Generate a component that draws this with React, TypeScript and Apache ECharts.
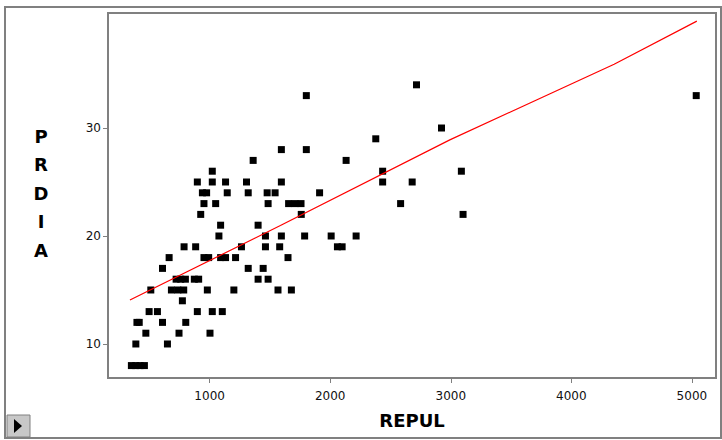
import React, { useEffect, useRef } from "react";
import * as echarts from "echarts";

// REPUL (x) and PRDIA (y) values
const repul = [
  351, 387, 423, 459,
  388, 650,
  471, 746, 1003,
  397, 416, 609, 802,
  498, 567, 898, 1022, 1105,
  774,
  512, 683, 736, 785, 981, 1201, 1567, 1678,
  722, 760, 799, 873, 909, 1402, 1485,
  609, 1320, 1444,
  664, 953, 992, 1091, 1132, 1215, 1650,
  788, 884, 1264, 1463, 1581, 2060, 2099,
  1077, 1463, 1595, 1788, 2008, 2215,
  1091, 1402,
  926, 1760, 3102,
  953, 1050, 1485, 1655, 1708, 1758, 2584,
  940, 975, 1146, 1320, 1477, 1543, 1912,
  898, 1022, 1132, 1306, 1595, 2435, 2680,
  1022, 2435, 3088,
  1361, 2132,
  1595, 1802,
  2378,
  2923,
  1802, 5036,
  2716,
];
const prdia = [
  8, 8, 8, 8,
  10, 10,
  11, 11, 11,
  12, 12, 12, 12,
  13, 13, 13, 13, 13,
  14,
  15, 15, 15, 15, 15, 15, 15, 15,
  16, 16, 16, 16, 16, 16, 16,
  17, 17, 17,
  18, 18, 18, 18, 18, 18, 18,
  19, 19, 19, 19, 19, 19, 19,
  20, 20, 20, 20, 20, 20,
  21, 21,
  22, 22, 22,
  23, 23, 23, 23, 23, 23, 23,
  24, 24, 24, 24, 24, 24, 24,
  25, 25, 25, 25, 25, 25, 25,
  26, 26, 26,
  27, 27,
  28, 28,
  29,
  30,
  33, 33,
  34,
];

// fitted line
const fitX = [339, 1587, 2992, 4355, 5041];
const fitY = [14.07, 20.97, 28.9, 35.9, 39.9];

const xTicks = [1000, 2000, 3000, 4000, 5000];
const yTicks = [10, 20, 30];

const xName = "REPUL";
const yName = "PRDIA";

export default function App() {
  const ref = useRef<HTMLDivElement>(null);
  useEffect(() => {
    if (!ref.current) return;
    const chart = echarts.init(ref.current, null, { renderer: "svg" });
    const points = repul.map((x, i) => [x, prdia[i]]);
    const line = fitX.map((x, i) => [x, fitY[i]]);
    const labelFont = "DejaVu Sans";
    chart.setOption({
      animation: false,
      backgroundColor: "#ffffff",
      grid: {
        left: 108,
        top: 13,
        right: 6,
        bottom: 62,
        show: true,
        borderColor: "#808080",
        borderWidth: 2,
        backgroundColor: "#ffffff",
      },
      xAxis: {
        type: "value",
        min: 157,
        max: 5200,
        name: xName,
        nameLocation: "middle",
        nameGap: 33,
        nameTextStyle: {
          fontFamily: labelFont,
          fontWeight: "bold",
          fontSize: 18,
          color: "#000",
        },
        splitLine: { show: false },
        axisLine: { show: true, lineStyle: { color: "#808080", width: 2 } },
        axisTick: {
          show: true,
          length: 5,
          customValues: xTicks,
          lineStyle: { color: "#808080", width: 1 },
        },
        axisLabel: {
          customValues: xTicks,
          formatter: (v: number) => String(v),
          margin: 12,
          fontFamily: labelFont,
          fontSize: 12,
          color: "#111",
        },
      },
      yAxis: {
        type: "value",
        min: 6.85,
        max: 40.65,
        splitLine: { show: false },
        axisLine: { show: true, lineStyle: { color: "#808080", width: 2 } },
        axisTick: {
          show: true,
          length: 5,
          customValues: yTicks,
          lineStyle: { color: "#808080", width: 1 },
        },
        axisLabel: {
          customValues: yTicks,
          formatter: (v: number) => String(v),
          margin: 7,
          fontFamily: labelFont,
          fontSize: 12,
          color: "#111",
        },
      },
      graphic: [
        {
          type: "rect",
          shape: { x: 5, y: 7, width: 716, height: 431 },
          style: { fill: "none", stroke: "#808080", lineWidth: 2 },
          silent: true,
          z: -1,
        },
        {
          type: "text",
          x: 41,
          y: 193,
          style: {
            text: yName.split("").join("\n"),
            fontFamily: labelFont,
            fontWeight: "bold",
            fontSize: 18,
            lineHeight: 28.5,
            fill: "#000",
            textAlign: "center",
            textVerticalAlign: "middle",
          },
        },
        {
          type: "rect",
          shape: { x: 7, y: 415, width: 23, height: 22 },
          style: { fill: "#c8c8c8", stroke: "#808080", lineWidth: 1 },
        },
        {
          type: "polygon",
          shape: { points: [[14, 419], [22, 426], [14, 433]] },
          style: { fill: "#000" },
        },
      ],
      series: [
        {
          type: "scatter",
          data: points,
          symbol: "rect",
          symbolSize: 7,
          itemStyle: { color: "#000", opacity: 1 },
          z: 3,
        },
        {
          type: "line",
          data: line,
          showSymbol: false,
          symbol: "none",
          lineStyle: { color: "#ff0000", width: 1.2 },
          z: 4,
        },
      ],
    });
    return () => chart.dispose();
  }, []);
  return (
    <div
      ref={ref}
      style={{ position: "fixed", left: 0, top: 0, width: 722, height: 440, background: "#fff" }}
    />
  );
}
